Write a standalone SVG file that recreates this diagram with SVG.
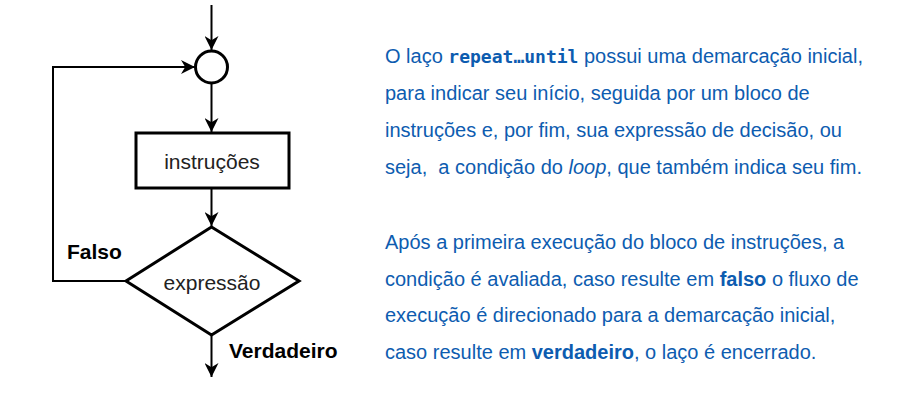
<svg xmlns="http://www.w3.org/2000/svg" width="910" height="403" viewBox="0 0 910 403">
<style>
.shape{fill:#fff;stroke:#000;stroke-width:3}
.edge{fill:none;stroke:#000;stroke-width:2}
.lbl{font-family:"Liberation Sans",Arial,sans-serif;font-size:21px;fill:#222}
.bold{font-weight:bold;fill:#000}
.para{font-family:"Liberation Sans",Arial,sans-serif;font-size:20px;fill:#0d5cb0}
.mono{font-family:"DejaVu Sans Mono",monospace;font-weight:bold;font-size:18px}
</style>
<defs>
<marker id="arr" viewBox="0 0 10 10" refX="10" refY="5" markerWidth="14" markerHeight="14" markerUnits="userSpaceOnUse" orient="auto">
<path d="M0,0 L10,5 L0,10 L3,5 Z" fill="#000"/>
</marker>
</defs>
<rect width="910" height="403" fill="#fff"/>
<g id="connectors">
<line class="edge" x1="211.5" y1="5" x2="211.5" y2="50" marker-end="url(#arr)"/>
<line class="edge" x1="211.5" y1="84" x2="211.5" y2="132" marker-end="url(#arr)"/>
<line class="edge" x1="211.5" y1="189" x2="211.5" y2="226" marker-end="url(#arr)"/>
<polyline class="edge" points="126,281 53,281 53,67 195,67" marker-end="url(#arr)"/>
<line class="edge" x1="211.5" y1="335" x2="211.5" y2="377" marker-end="url(#arr)"/>
</g>
<g id="start">
<circle class="shape" cx="211.5" cy="67" r="16"/>
</g>
<g id="instrucoes">
<rect class="shape" x="136" y="133" width="153" height="55"/>
<text class="lbl" x="212" y="169" text-anchor="middle">instruções</text>
</g>
<g id="expressao">
<polygon class="shape" points="211.5,227 299,281 211.5,335 126,281"/>
<text class="lbl" x="212" y="290" text-anchor="middle">expressão</text>
</g>
<g id="labels">
<text class="lbl bold" x="67" y="259">Falso</text>
<text class="lbl bold" x="229" y="358">Verdadeiro</text>
</g>
<g id="text">
<text class="para" x="385" y="63">O laço <tspan class="mono">repeat…until</tspan> possui uma demarcação inicial,</text>
<text class="para" x="385" y="100">para indicar seu início, seguida por um bloco de</text>
<text class="para" x="385" y="137">instruções e, por fim, sua expressão de decisão, ou</text>
<text class="para" x="385" y="174" xml:space="preserve">seja,  a condição do <tspan font-style="italic">loop</tspan>, que também indica seu fim.</text>
<text class="para" x="385" y="249">Após a primeira execução do bloco de instruções, a</text>
<text class="para" x="385" y="286">condição é avaliada, caso resulte em <tspan font-weight="bold">falso</tspan> o fluxo de</text>
<text class="para" x="385" y="322">execução é direcionado para a demarcação inicial,</text>
<text class="para" x="385" y="359">caso resulte em <tspan font-weight="bold">verdadeiro</tspan>, o laço é encerrado.</text>
</g>
</svg>
